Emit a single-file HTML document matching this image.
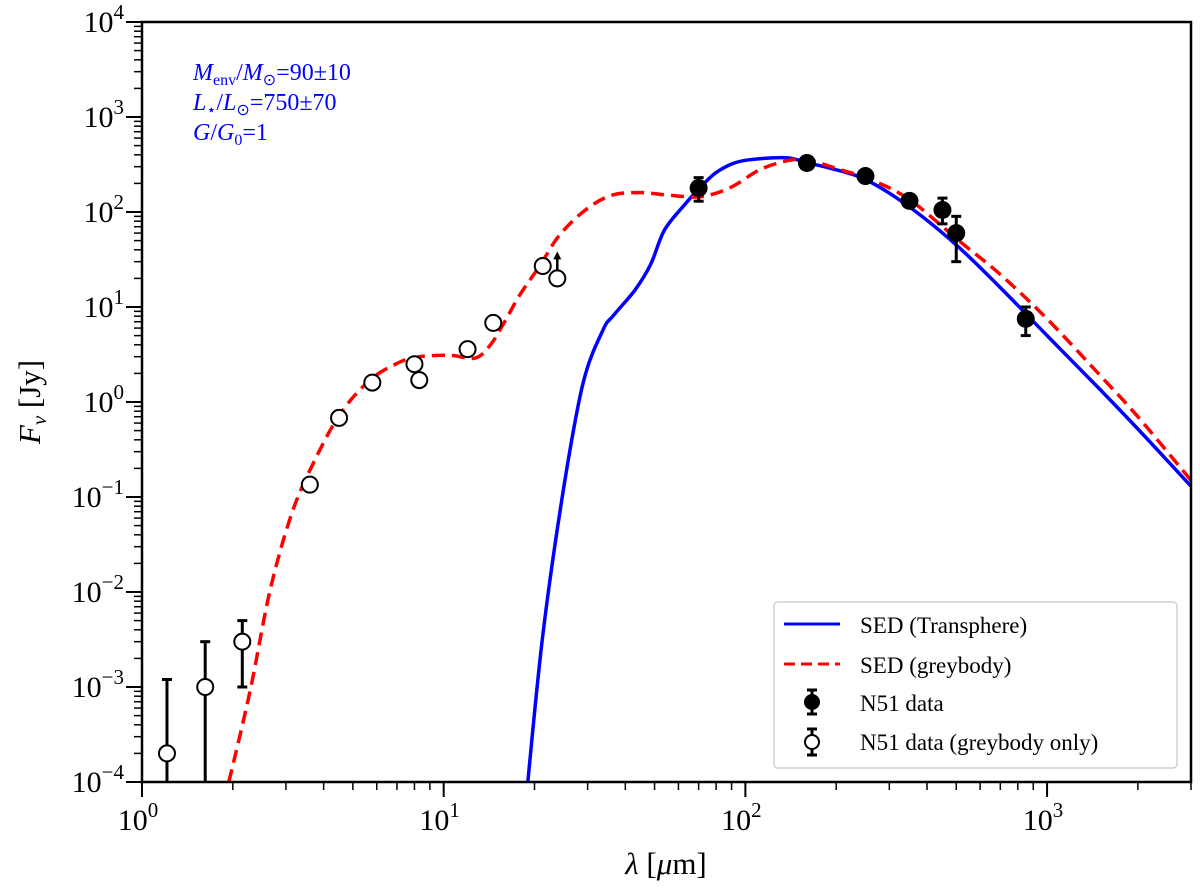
<!DOCTYPE html>
<html><head><meta charset="utf-8"><style>
html,body{margin:0;padding:0;background:#fff;}
svg{display:block;font-family:"Liberation Serif",serif;}
</style></head><body>
<svg id="chart" width="1200" height="893" viewBox="0 0 1200 893" xmlns="http://www.w3.org/2000/svg">
<rect x="0" y="0" width="1200" height="893" fill="#fff"/>
<g id="plot"></g>
<g id="axes"></g>
<g fill="#0000ff" font-size="24">
<text x="193" y="80"><tspan font-style="italic">M</tspan><tspan font-size="16" dy="5">env</tspan><tspan dy="-5">/</tspan><tspan font-style="italic">M</tspan><tspan font-size="16" dy="5">⊙</tspan><tspan dy="-5">=90±10</tspan></text>
<text x="193" y="110"><tspan font-style="italic">L</tspan><tspan font-size="16" dy="5">⋆</tspan><tspan dy="-5">/</tspan><tspan font-style="italic">L</tspan><tspan font-size="16" dy="5">⊙</tspan><tspan dy="-5">=750±70</tspan></text>
<text x="193" y="140"><tspan font-style="italic">G</tspan>/<tspan font-style="italic">G</tspan><tspan font-size="16" dy="5">0</tspan><tspan dy="-5">=1</tspan></text>
</g>
<text x="666" y="874" font-size="31" text-anchor="middle"><tspan font-style="italic">λ</tspan> [<tspan font-style="italic">μ</tspan>m]</text>
<text transform="translate(40,402) rotate(-90)" font-size="31" text-anchor="middle"><tspan font-style="italic">F</tspan><tspan font-style="italic" font-size="21" dy="6">ν</tspan><tspan dy="-6">  [Jy]</tspan></text>
<g>
<rect x="774" y="602" width="403" height="166" rx="4" fill="#fff" stroke="#d0d0d0" stroke-width="1.5"/>
<line x1="784" y1="624" x2="840" y2="624" stroke="#0000ff" stroke-width="3"/>
<text x="860" y="633" font-size="23">SED (Transphere)</text>
<line x1="784" y1="664" x2="840" y2="664" stroke="#ff0000" stroke-width="3" stroke-dasharray="11,6"/>
<text x="860" y="673" font-size="23">SED (greybody)</text>
<g stroke="#000" stroke-width="3"><line x1="812" y1="690" x2="812" y2="714"/><line x1="807" y1="690" x2="817" y2="690"/><line x1="807" y1="714" x2="817" y2="714"/><circle cx="812" cy="702" r="8" fill="#000" stroke="none"/></g>
<text x="860" y="711" font-size="23">N51 data</text>
<g stroke="#000" stroke-width="3"><line x1="812" y1="729" x2="812" y2="755"/><line x1="807" y1="729" x2="817" y2="729"/><line x1="807" y1="755" x2="817" y2="755"/><circle cx="812" cy="742" r="7" fill="#fff" stroke-width="2"/></g>
<text x="860" y="750" font-size="23">N51 data (greybody only)</text>
</g>
</svg>
<script>
const blueLam=[19,21.3,25,29,33.7,36.6,43,48.5,54,63,73,80,90,100,121,140,160,190,250,350,500,700,1000,1500,2000,3000];
const blueF=[1e-4,3.5e-3,0.125,1.6,5.7,8.2,15,28,65,120,200,260,320,350,370,370,330,290,220,113,45,16,5,1.35,0.52,0.13];
const redLam=[1.94,2.28,2.65,3.1,3.6,4.5,5.7,7.1,8.3,10.5,12.7,14.3,16,17.9,20.8,24.2,29.5,36,45,56,71,89,112,140,163,205,260,350,510,700,1000,1500,2000,3000];
const redF=[1e-4,9e-4,0.01,0.06,0.19,0.72,1.7,2.6,3,3.1,2.9,4,7.2,13.5,27,57,105,150,160,150,145,180,280,350,350,280,220,135,50,22,7.5,1.9,0.7,0.15];
const dataLam=[70,160,250,350,450,500,850];
const dataF=[179,328,239,131,105,60,7.5];
const dataLo=[130,300,215,118,75,30,5];
const dataHi=[230,360,265,145,140,90,10];
const openLam=[1.21,1.62,2.15,3.6,4.5,5.8,8.0,8.3,12,14.6,21.3,23.8];
const openF=[2e-4,1e-3,3e-3,0.135,0.68,1.6,2.5,1.7,3.6,6.8,27,20];
const openLo=[1e-4,1e-4,1e-3,null,null,null,null,null,null,null,null,null];
const openHi=[1.2e-3,3e-3,5e-3,null,null,null,null,null,null,null,null,null];
const xTickLabels=["0","1","2","3"];
const yTickLabels=["-4","-3","-2","-1","0","1","2","3","4"];
const L=142,R=1191,T=22,B=782;
const xMin=0,xMax=Math.log10(3000),yMin=-4,yMax=4;
const X=v=>L+(Math.log10(v)-xMin)/(xMax-xMin)*(R-L);
const Y=v=>B-(Math.log10(v)-yMin)/(yMax-yMin)*(B-T);
const NS="http://www.w3.org/2000/svg";
const plot=document.getElementById('plot'),axes=document.getElementById('axes');
function mk(tag,attrs,parent){const e=document.createElementNS(NS,tag);for(const k in attrs)e.setAttribute(k,attrs[k]);parent.appendChild(e);return e;}
const cp=mk('clipPath',{id:'clip'},plot);mk('rect',{x:L,y:T,width:R-L,height:B-T},cp);
const g=mk('g',{'clip-path':'url(#clip)'},plot);
function pathOf(ls,fs){
 const p=ls.map((l,i)=>[X(l),Y(fs[i])]);
 let d='M'+p[0][0].toFixed(1)+','+p[0][1].toFixed(1);
 for(let i=0;i<p.length-1;i++){const p0=p[Math.max(0,i-1)],p1=p[i],p2=p[i+1],p3=p[Math.min(p.length-1,i+2)];
  const c1=[p1[0]+(p2[0]-p0[0])/6,p1[1]+(p2[1]-p0[1])/6],c2=[p2[0]-(p3[0]-p1[0])/6,p2[1]-(p3[1]-p1[1])/6];
  d+=` C${c1[0].toFixed(1)},${c1[1].toFixed(1)} ${c2[0].toFixed(1)},${c2[1].toFixed(1)} ${p2[0].toFixed(1)},${p2[1].toFixed(1)}`;}
 return d;}
const bl=mk('path',{d:pathOf(blueLam,blueF),fill:'none',stroke:'#0000ff','stroke-width':3.5,'stroke-linejoin':'round'},g);


const rl=mk('path',{d:pathOf(redLam,redF),fill:'none',stroke:'#ff0000','stroke-width':3.5,'stroke-dasharray':'13,7'},g);


function errbar(x,lo,hi){mk('line',{x1:x,y1:Y(lo),x2:x,y2:Y(hi),stroke:'#000','stroke-width':3},g);
 mk('line',{x1:x-5,y1:Y(hi),x2:x+5,y2:Y(hi),stroke:'#000','stroke-width':3},g);
 if(lo>1e-4)mk('line',{x1:x-5,y1:Y(lo),x2:x+5,y2:Y(lo),stroke:'#000','stroke-width':3},g);}
openLam.forEach((l,i)=>{const x=X(l);if(openHi[i]!==null)errbar(x,openLo[i],openHi[i]);
 const c=mk('circle',{cx:x,cy:Y(openF[i]),r:8,fill:'#fff',stroke:'#000','stroke-width':2},g);
 
 });
(function(){const i=openLam.length-1,x=X(openLam[i]),y=Y(openF[i]);
 mk('line',{x1:x,y1:y-8,x2:x,y2:y-22,stroke:'#000','stroke-width':2.5},g);
 mk('path',{d:`M${x-4},${y-19} L${x},${y-27} L${x+4},${y-19} Z`,fill:'#000'},g);})();
dataLam.forEach((l,i)=>{const x=X(l);errbar(x,dataLo[i],dataHi[i]);
 const c=mk('circle',{cx:x,cy:Y(dataF[i]),r:9,fill:'#000'},g);
 
 });
mk('rect',{x:L,y:T,width:R-L,height:B-T,fill:'none',stroke:'#000','stroke-width':2.5},axes);
for(let d=0;d<=3;d++){for(let m=1;m<=9;m++){const v=m*Math.pow(10,d);if(v>3000)break;const x=X(v);
 mk('line',{x1:x,y1:B,x2:x,y2:B+(m===1?15:8),stroke:'#000','stroke-width':m===1?2:1.5},axes);}}
xTickLabels.forEach(s=>{const x=X(Math.pow(10,+s));const t=mk('text',{x:x-4,y:830,'font-size':30,'text-anchor':'middle'},axes);
 
 
 t.textContent='10';const sp=mk('tspan',{dy:-13,'font-size':21},t);sp.textContent=s;});
for(let d=-4;d<=4;d++){for(let m=1;m<=9;m++){if(d===4&&m>1)break;const y=Y(m*Math.pow(10,d));
 mk('line',{x1:L,y1:y,x2:L-(m===1?16:8),y2:y,stroke:'#000','stroke-width':m===1?2:1.5},axes);}}
yTickLabels.forEach(s=>{const y=Y(Math.pow(10,+s));const t=mk('text',{x:124,y:y+10,'font-size':30,'text-anchor':'end'},axes);
 
 
 t.textContent='10';const sp=mk('tspan',{dy:-13,'font-size':21},t);sp.textContent=s.replace('-','−');});
</script>
</body></html>
